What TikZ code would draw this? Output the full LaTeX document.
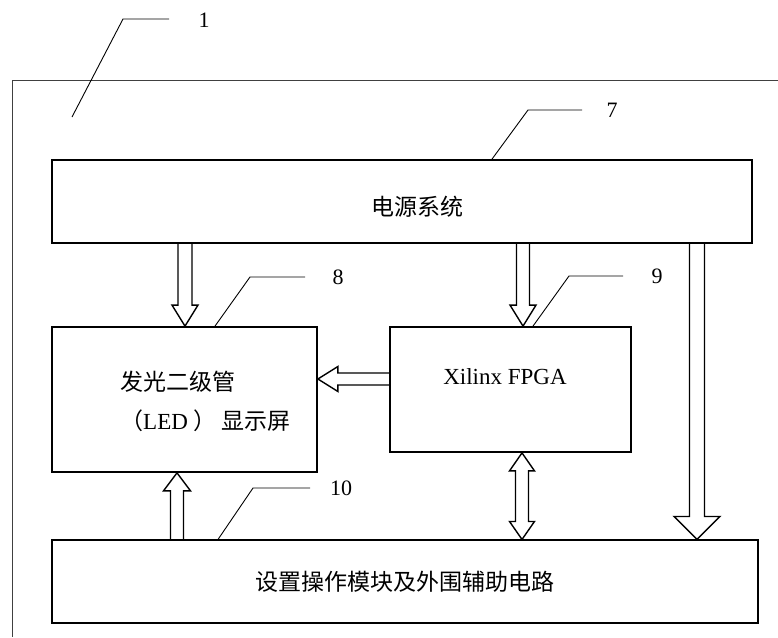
\documentclass[tikz,border=0pt]{standalone}
\usepackage{fontspec}
\setmainfont{Liberation Serif}
\newfontfamily\cjk{Noto Sans CJK SC}
\usetikzlibrary{calc}
\tikzset{
  box/.style 2 args={draw, line width=1.8pt, minimum width=#1, minimum height=#2, inner sep=0pt},
  thinbox/.style 2 args={draw, line width=1.1pt, minimum width=#1, minimum height=#2, inner sep=0pt},
  txt/.style={inner sep=0pt, font=\fontsize{23}{28}\selectfont},
  num/.style={inner sep=0pt, font=\fontsize{22}{26}\selectfont},
  lead/.style={line width=0.9pt},
  blk/.style={line width=1.4pt, line join=miter},
  frame/.style={line width=1pt, draw=black!75}
}
% hollow block arrows: #1 start, #2 tip, #3 half shaft, #4 half head, #5 head length
\newcommand\ArrDn[5]{\draw[blk] let \p1=(#1), \p2=(#2) in
  (\x2-#3,\y1) -- (\x2-#3,\y2+#5) -- (\x2-#4,\y2+#5) -- (\x2,\y2) -- (\x2+#4,\y2+#5) -- (\x2+#3,\y2+#5) -- (\x2+#3,\y1);}
\newcommand\ArrUpw[5]{\draw[blk] let \p1=(#1), \p2=(#2) in
  (\x2-#3,\y1) -- (\x2-#3,\y2-#5) -- (\x2-#4,\y2-#5) -- (\x2,\y2) -- (\x2+#4,\y2-#5) -- (\x2+#3,\y2-#5) -- (\x2+#3,\y1);}
\newcommand\ArrLft[5]{\draw[blk] let \p1=(#1), \p2=(#2) in
  (\x1,\y2+#3) -- (\x2+#5,\y2+#3) -- (\x2+#5,\y2+#4) -- (\x2,\y2) -- (\x2+#5,\y2-#4) -- (\x2+#5,\y2-#3) -- (\x1,\y2-#3);}
\newcommand\ArrBoth[5]{\draw[blk] let \p1=(#1), \p2=(#2) in
  (\x1,\y1) -- (\x1+#4,\y1-#5) -- (\x1+#3,\y1-#5) -- (\x1+#3,\y2+#5) -- (\x1+#4,\y2+#5) -- (\x1,\y2)
  -- (\x1-#4,\y2+#5) -- (\x1-#3,\y2+#5) -- (\x1-#3,\y1-#5) -- (\x1-#4,\y1-#5) -- cycle;}
\begin{document}
\begin{tikzpicture}[x=1pt,y=-1pt]
\useasboundingbox (0,0) rectangle (778,637);
% outer frame (partial)
\draw[frame] (778,80) -- (12,80) -- (12,637);
% boxes
\node[box={700pt}{83pt}] (pwr) at (402,201.5) {};
\node[box={265pt}{145pt}] (led) at (184.5,399.5) {};
\node[box={241pt}{125pt}] (fpga) at (510.5,389.5) {};
\node[thinbox={706pt}{83pt}] (bot) at (405,581.5) {\cjk\fontsize{23}{28}\selectfont 设置操作模块及外围辅助电路};
% texts
\node[txt] (tpwr) at (417,207) {\cjk 电源系统};
\node[txt, anchor=west, align=left] (tled) at (120,401) {\cjk 发光二级管\\[11pt]{\cjk （}LED {\cjk ）\ 显示屏}};
\node[txt] (tfpga) at (505,377) {Xilinx FPGA};
% arrow end points
\coordinate (a1s) at (185,0 |- pwr.south);  \coordinate (a1e) at (185,0 |- led.north);
\coordinate (a2s) at (523,0 |- pwr.south);  \coordinate (a2e) at (523,0 |- fpga.north);
\coordinate (a3s) at (697,0 |- pwr.south);  \coordinate (a3e) at (697,0 |- bot.north);
\coordinate (a4s) at (fpga.west |- 0,379);  \coordinate (a4e) at (led.east |- 0,379);
\coordinate (a5s) at (522,0 |- fpga.south); \coordinate (a5e) at (522,0 |- bot.north);
\coordinate (a6s) at (177,0 |- bot.north);  \coordinate (a6e) at (177,0 |- led.south);
% arrows
\ArrDn{a1s}{a1e}{7pt}{13pt}{21pt}
\ArrDn{a2s}{a2e}{6.5pt}{13pt}{21pt}
\ArrDn{a3s}{a3e}{7.5pt}{23pt}{23pt}
\ArrLft{a4s}{a4e}{6pt}{12.5pt}{20pt}
\ArrBoth{a5s}{a5e}{6.5pt}{12.5pt}{18pt}
\ArrUpw{a6s}{a6e}{6.5pt}{13.5pt}{18pt}
% leaders and labels
\coordinate (l1a) at (72,117);
\draw[lead] (l1a) -- (123,19) -- (169,19);
\node[num] (n1) at (204,20) {1};
\coordinate (l7a) at (492,0 |- pwr.north);
\draw[lead] (l7a) -- (528,110) -- (582,110);
\node[num] (n7) at (612,110) {7};
\coordinate (l8a) at (215,0 |- led.north);
\draw[lead] (l8a) -- (250,277) -- (305,277);
\node[num] (n8) at (338,277) {8};
\coordinate (l9a) at (533,0 |- fpga.north);
\draw[lead] (l9a) -- (569,276) -- (623,276);
\node[num] (n9) at (657,276) {9};
\coordinate (l10a) at (218,0 |- bot.north);
\draw[lead] (l10a) -- (253,488) -- (310,488);
\node[num] (n10) at (341,488) {10};
\end{tikzpicture}
\end{document}
